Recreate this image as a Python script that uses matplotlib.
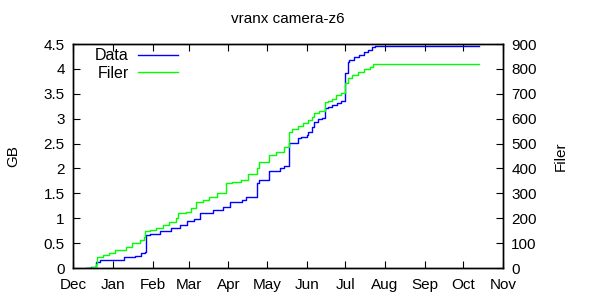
import matplotlib
matplotlib.use("Agg")
import matplotlib.pyplot as plt
import numpy as np
from datetime import datetime

title = "vranx camera-z6"
month_labels = ["Dec", "Jan", "Feb", "Mar", "Apr", "May", "Jun", "Jul", "Aug", "Sep", "Oct", "Nov"]
month_ticks = ["2008-12-01", "2009-01-01", "2009-02-01", "2009-03-01", "2009-04-01", "2009-05-01",
               "2009-06-01", "2009-07-01", "2009-08-01", "2009-09-01", "2009-10-01", "2009-11-01"]

data_dates = ["2008-12-11", "2008-12-15", "2008-12-19", "2008-12-22", "2009-01-01", "2009-01-10",
              "2009-01-18", "2009-01-23", "2009-01-26", "2009-01-27", "2009-01-30", "2009-02-07",
              "2009-02-15", "2009-02-22", "2009-02-28", "2009-03-05", "2009-03-10", "2009-03-20",
              "2009-03-28", "2009-04-02", "2009-04-12", "2009-04-15", "2009-04-23", "2009-04-25",
              "2009-05-03", "2009-05-11", "2009-05-14", "2009-05-18", "2009-05-25", "2009-05-28",
              "2009-06-01", "2009-06-02", "2009-06-05", "2009-06-07", "2009-06-10", "2009-06-13",
              "2009-06-15", "2009-06-18", "2009-06-21", "2009-06-25", "2009-06-28", "2009-07-01",
              "2009-07-03", "2009-07-04", "2009-07-08", "2009-07-12", "2009-07-16", "2009-07-19",
              "2009-07-22", "2009-07-24", "2009-10-13"]
data_gb = [0.0, 0.03, 0.13, 0.16, 0.17, 0.22,
           0.25, 0.30, 0.33, 0.66, 0.68, 0.74,
           0.80, 0.86, 0.94, 0.98, 1.10, 1.17,
           1.23, 1.33, 1.37, 1.43, 1.71, 1.77,
           1.95, 2.01, 2.05, 2.52, 2.61, 2.64,
           2.67, 2.74, 2.83, 2.94, 2.99, 3.02,
           3.21, 3.24, 3.27, 3.31, 3.35, 3.91,
           4.14, 4.18, 4.24, 4.28, 4.33, 4.38,
           4.43, 4.45, 4.45]

filer_dates = ["2008-12-11", "2008-12-14", "2008-12-16", "2008-12-19", "2008-12-20", "2008-12-24",
               "2008-12-29", "2009-01-03", "2009-01-11", "2009-01-16", "2009-01-22", "2009-01-25",
               "2009-01-26", "2009-01-30", "2009-02-04", "2009-02-09", "2009-02-14", "2009-02-19",
               "2009-02-21", "2009-02-27", "2009-03-03", "2009-03-07", "2009-03-12", "2009-03-17",
               "2009-03-23", "2009-03-30", "2009-04-04", "2009-04-11", "2009-04-16", "2009-04-23",
               "2009-04-25", "2009-05-03", "2009-05-08", "2009-05-14", "2009-05-18", "2009-05-21",
               "2009-05-25", "2009-05-29", "2009-06-02", "2009-06-05", "2009-06-07", "2009-06-11",
               "2009-06-15", "2009-06-18", "2009-06-21", "2009-06-24", "2009-06-28", "2009-07-01",
               "2009-07-03", "2009-07-06", "2009-07-11", "2009-07-16", "2009-07-20", "2009-07-23",
               "2009-10-13"]
filer_count = [0, 2, 5, 15, 45, 52,
               59, 72, 86, 102, 112, 126,
               150, 153, 160, 173, 186, 200,
               220, 226, 240, 266, 273, 286,
               300, 340, 347, 354, 376, 401,
               427, 454, 467, 486, 548, 557,
               571, 584, 595, 605, 624, 632,
               666, 672, 678, 695, 702, 742,
               762, 775, 786, 798, 809, 818,
               818]

plt.rcParams['font.family'] = ['Liberation Sans', 'DejaVu Sans']
plt.rcParams['font.size'] = 11

fig = plt.figure(figsize=(6, 3), dpi=100)
ax = fig.add_axes([73/600, 1-268/300, 430/600, 224/300])
ax2 = ax.twinx()

d1 = [datetime.strptime(s, "%Y-%m-%d") for s in data_dates]
d2 = [datetime.strptime(s, "%Y-%m-%d") for s in filer_dates]
l1, = ax.step(d1, data_gb, where="post", color="#0000ff", lw=1.0, label="Data")
l2, = ax2.step(d2, filer_count, where="post", color="#00ff00", lw=1.0, label="Filer")

xt = [datetime.strptime(s, "%Y-%m-%d") for s in month_ticks]
ax.set_xlim(xt[0], xt[-1])
ax.set_xticks(xt)
ax.set_xticklabels(month_labels)
ax.set_ylim(0, 4.5)
ax.set_yticks(np.arange(0, 4.51, 0.5))
ax.set_yticklabels(["0", "0.5", "1", "1.5", "2", "2.5", "3", "3.5", "4", "4.5"])
ax2.set_ylim(0, 900)
ax2.set_yticks(np.arange(0, 901, 100))

ax.tick_params(axis="x", direction="in", top=True, length=5, pad=7)
ax.tick_params(axis="y", direction="in", left=True, right=False, length=5, pad=6)
ax2.tick_params(axis="y", direction="in", right=True, length=5, pad=6)

for a in (ax, ax2):
    for s in a.spines.values():
        s.set_linewidth(1.0)
        s.set_color("black")

ax.set_ylabel("GB", labelpad=17)
ax2.set_ylabel("Filer", labelpad=12)
ax.set_title(title, fontsize=11, pad=15)

leg = ax.legend([l1, l2], ["Data", "Filer"], loc="upper left", bbox_to_anchor=(0.018, 1.045),
                frameon=False, markerfirst=False, handlelength=2.5, handletextpad=0.6,
                labelspacing=0.15, fontsize=11.5)
try:
    for col in leg._legend_handle_box.get_children():
        col.align = "right"
except Exception:
    pass

fig.savefig("out.png", dpi=100)
